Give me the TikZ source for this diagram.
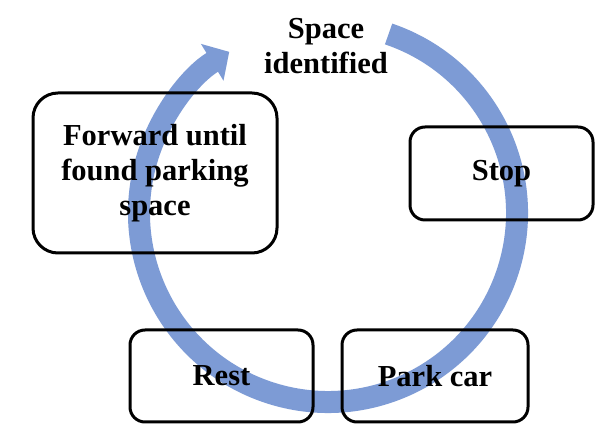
\documentclass[tikz,border=0pt]{standalone}
\usepackage{fontspec}
\setmainfont{Liberation Serif}
\usetikzlibrary{arrows.meta}
\definecolor{cyclearc}{RGB}{125,155,213}
\begin{document}
\begin{tikzpicture}[x=1pt,y=1pt,
  stagebox/.style={draw=black, line width=3pt, rounded corners=#1,
    font=\bfseries\fontsize{30.5}{35}\selectfont, align=center, inner sep=0pt},
  stagebox/.default=15pt,
  cyclecaption/.style={font=\bfseries\fontsize{30.5}{35}\selectfont, align=center, inner sep=0pt}]

% page
\fill[white] (0,0) rectangle (609,435);
\useasboundingbox (0,0) rectangle (609,435);

% the cycle arrow
\coordinate (hub) at (328,222);
\draw[cyclearc, line width=22pt, -{Triangle[width=42pt,length=20pt]}]
  (hub) ++(71.3:189) arc[start angle=71.3, end angle=-238.5, radius=189];

% stages
\node[stagebox=25pt, minimum width=244pt, minimum height=160pt] (forward) at (155,262)
  {Forward until\\found parking\\space};
\node[stagebox, minimum width=183pt, minimum height=93pt] (stop) at (501.5,261.5) {Stop};
\node[stagebox, minimum width=183pt, minimum height=92pt] (rest) at (221.5,59) {Rest};
\node[stagebox, minimum width=186pt, minimum height=92pt] (park) at (435,59) {Park car};

% event at the top
\node[cyclecaption] (space) at (326,389) {Space\\identified};
\end{tikzpicture}
\end{document}
